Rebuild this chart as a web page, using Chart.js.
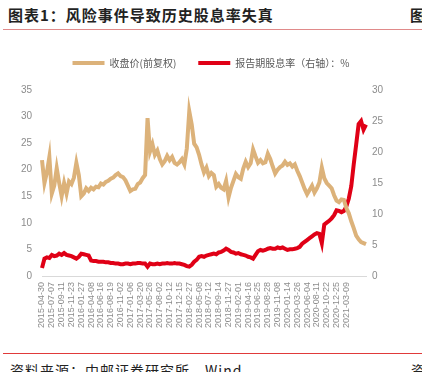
<!DOCTYPE html>
<html>
<head>
<meta charset="utf-8">
<script src="https://cdn.jsdelivr.net/npm/chart.js@4"></script>
<style>
  html, body { margin: 0; padding: 0; background: #fff; }
  body { width: 422px; height: 372px; position: relative; overflow: hidden; font-family: "Noto Sans CJK SC", sans-serif; }
  .title { position: absolute; left: 8px; top: 4px; font-size: 15px; font-weight: bold; color: #222; letter-spacing: 1px; white-space: nowrap; }
  .title-r { position: absolute; left: 410px; top: 4px; font-size: 15px; font-weight: bold; color: #222; }
  .rule-top { position: absolute; left: 3px; right: 0; top: 29px; height: 1px; background: #e08a8a; }
  .rule-bot { position: absolute; left: 3px; right: 0; top: 353px; height: 1px; background: #e03a3a; }
  .source { position: absolute; left: 10px; top: 360px; font-size: 14px; color: #222; white-space: nowrap; letter-spacing: 1px; }
  .source-r { position: absolute; left: 411px; top: 360px; font-size: 14px; color: #222; }
  #wrap { position: absolute; left: 0; top: 36px; width: 422px; height: 306px; }
</style>
</head>
<body>
<div class="title">图表1：风险事件导致历史股息率失真</div>
<div class="title-r">图</div>
<div class="rule-top"></div>
<div id="wrap"><canvas id="priceChart"></canvas></div>
<div class="rule-bot"></div>
<div class="source">资料来源：中邮证券研究所，Wind</div>
<div class="source-r">资</div>
<script>
// date labels shown on the x axis (one every 4 points)
const tickDates = [
  '2015-04-30', '2015-07-07', '2015-09-11', '2015-11-23', '2016-01-27', '2016-04-08',
  '2016-06-16', '2016-08-19', '2016-11-02', '2017-01-06', '2017-03-20', '2017-05-26',
  '2017-08-02', '2017-10-12', '2017-12-15', '2018-02-27', '2018-05-08', '2018-07-12',
  '2018-09-14', '2018-11-27', '2019-02-01', '2019-04-16', '2019-06-25', '2019-08-28',
  '2019-11-08', '2020-01-14', '2020-03-26', '2020-06-04', '2020-08-11', '2020-10-22',
  '2020-12-25', '2021-03-09'
];

// 收盘价(前复权)
const closePrice = [
  21.8, 17.5, 19.5, 22.4, 15.5, 17.0, 20.3, 17.5, 15.0, 17.5,
  15.5, 17.8, 17.3, 18.5, 21.3, 19.0, 15.0, 15.5, 16.5, 16.0,
  16.6, 16.3, 16.8, 16.7, 17.4, 17.2, 17.7, 17.9, 18.3, 18.5,
  19.0, 19.3, 18.8, 18.6, 18.0, 17.0, 16.0, 16.3, 16.4, 17.3,
  17.6, 18.4, 19.0, 29.7, 23.4, 24.8, 22.8, 23.6, 22.0, 21.0,
  21.6, 22.6, 21.8, 22.4, 21.3, 21.0, 21.4, 22.0, 21.0, 24.0,
  31.0, 28.5, 24.9, 24.2, 22.8, 21.0, 19.5, 20.4, 18.8, 19.4,
  19.0, 16.8, 17.3, 16.6, 16.3, 17.9, 14.8, 16.6, 17.9, 19.2,
  18.6, 18.3, 20.2, 21.5, 20.5, 21.2, 23.8, 22.5, 21.3, 21.8,
  21.2, 21.4, 23.0, 22.0, 20.6, 19.3, 20.0, 20.5, 20.8, 21.5,
  20.9, 21.2, 20.6, 21.0, 19.8, 18.8, 17.6, 16.4, 15.4, 16.2,
  17.0, 15.7, 16.5, 17.6, 20.4, 18.4, 17.5, 17.0, 16.5, 15.2,
  14.2, 13.9, 14.4, 14.3, 12.8, 11.8, 10.3, 9.0, 7.6, 6.9,
  6.4, 6.2, 6.0
];

// 报告期股息率（右轴）：%
const dividendYield = [
  1.3, 2.8, 3.0, 2.9, 3.4, 3.2, 3.3, 3.6, 3.4, 3.7,
  3.4, 3.3, 3.2, 3.0, 2.8, 3.1, 3.6, 3.5, 3.4, 3.3,
  2.5, 2.4, 2.4, 2.3, 2.3, 2.3, 2.2, 2.2, 2.1, 2.1,
  2.0, 2.0, 1.9, 1.9, 2.0, 2.0, 1.9, 2.0, 2.0, 2.1,
  2.1, 2.0, 2.0, 1.5, 2.0, 1.9, 1.9, 2.0, 1.9, 2.0,
  2.0, 2.1, 2.0, 2.0, 2.1, 2.0, 2.0, 1.9, 1.8, 1.6,
  1.5, 1.8, 2.3, 2.6, 3.1, 3.2, 3.1, 3.3, 3.4, 3.5,
  3.6, 3.5, 3.8, 3.9, 4.1, 4.4, 4.2, 3.9, 3.8, 3.6,
  3.7, 3.5, 3.4, 3.3, 3.1, 3.0, 2.8, 3.4, 4.0, 4.2,
  4.1, 4.2, 4.4, 4.5, 4.4, 4.4, 4.6, 4.5, 4.6, 4.4,
  4.2, 4.3, 4.3, 4.4, 4.5, 4.7, 5.2, 5.5, 5.8, 6.1,
  6.4, 6.7, 6.9, 6.8, 5.3, 8.3, 8.6, 8.9, 9.3, 9.8,
  10.6, 10.5, 10.3, 10.5, 11.2, 12.5, 14.5, 18.0, 21.2, 24.5,
  25.0, 23.6, 24.4
];

const labels = closePrice.map((v, i) => (i % 4 === 0 && tickDates[i / 4]) ? tickDates[i / 4] : '');

const tickFont = { family: '"Liberation Sans", Arial, sans-serif', size: 10 };
const gray = '#8c8c8c';

// leave extra room under the legend, like the original
const legendGap = {
  id: 'legendGap',
  beforeInit(chart) {
    const fit = chart.legend.fit;
    chart.legend.fit = function () {
      fit.bind(chart.legend)();
      this.height += 12;
    };
  }
};

const ctx = document.getElementById('priceChart').getContext('2d');

let chart = new Chart(ctx, {
  type: 'line',
  data: {
    labels: labels,
    datasets: [{
      label: '收盘价(前复权)',
      data: closePrice,
      borderColor: '#dcb27a',
      backgroundColor: '#dcb27a',
      borderWidth: 4,
      pointRadius: 0,
      tension: 0,
      yAxisID: 'y'
    }, {
      label: '报告期股息率（右轴）：%',
      data: dividendYield,
      borderColor: '#e00016',
      backgroundColor: '#e00016',
      borderWidth: 4,
      pointRadius: 0,
      tension: 0,
      yAxisID: 'y1'
    }]
  },
  plugins: [legendGap],
  options: {
    responsive: true,
    maintainAspectRatio: false,
    animation: false,
    layout: { padding: 0 },
    plugins: {
      tooltip: { enabled: false },
      legend: {
        display: true,
        position: 'top',
        labels: {
          usePointStyle: true,
          pointStyle: 'line',
          pointStyleWidth: 32,
          boxHeight: 10,
          padding: 22,
          color: '#595959',
          font: { family: '"Noto Sans CJK SC", sans-serif', size: 10 }
        }
      }
    },
    scales: {
      x: {
        grid: { display: false, drawTicks: false },
        border: { display: true, color: '#d9d9d9', width: 1 },
        ticks: {
          autoSkip: false,
          maxRotation: 90,
          minRotation: 90,
          padding: 6,
          color: gray,
          font: { family: '"Liberation Sans", Arial, sans-serif', size: 9 }
        },
        afterFit: (scale) => { scale.height = 66; }
      },
      y: {
        position: 'left',
        min: 0,
        max: 35,
        grid: { display: false, drawTicks: false },
        border: { display: false },
        ticks: { stepSize: 5, padding: 10, color: gray, font: tickFont },
        afterFit: (scale) => { scale.width = 42; }
      },
      y1: {
        position: 'right',
        min: 0,
        max: 30,
        grid: { display: false, drawTicks: false },
        border: { display: false },
        ticks: { stepSize: 5, padding: 6, color: gray, font: tickFont },
        afterFit: (scale) => { scale.width = 56; }
      }
    }
  }
});
</script>
</body>
</html>
